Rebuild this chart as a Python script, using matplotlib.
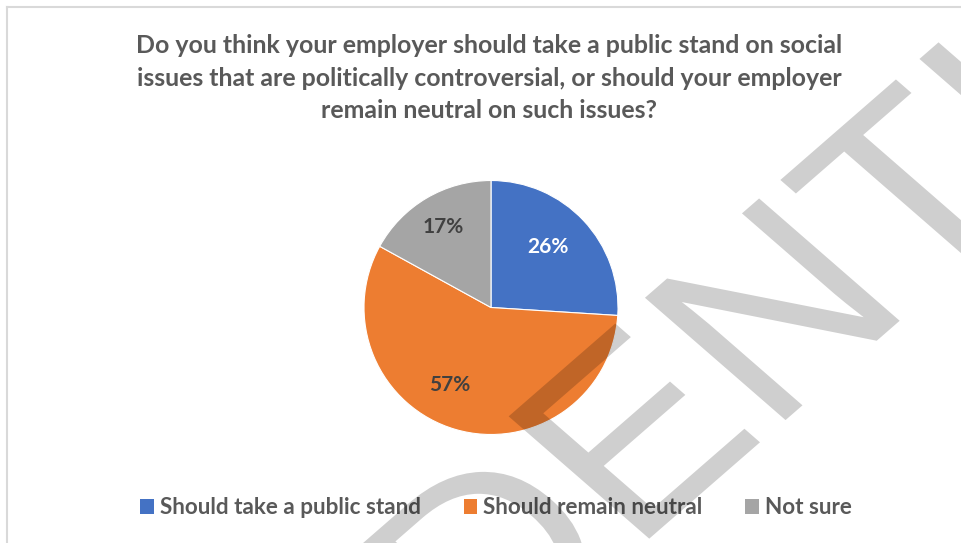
import numpy as np
import matplotlib.pyplot as plt
from matplotlib.patches import Patch, PathPatch
from matplotlib.lines import Line2D
from matplotlib.textpath import TextPath
from matplotlib.font_manager import FontProperties
from matplotlib.transforms import Affine2D

# survey answers
categories = ["Should take a public stand", "Should remain neutral", "Not sure"]
shares = [26, 57, 17]
colors = ["#4472C4", "#ED7D31", "#A5A5A5"]
label_colors = ["white", "#404040", "#404040"]

title_lines = ["Do you think your employer should take a public stand on social",
               "issues that are politically controversial, or should your employer",
               "remain neutral on such issues?"]

TEXT = "#595959"
FONT = ["Lato", "DejaVu Sans"]

W, H = 961, 543
fig = plt.figure(figsize=(W / 100, H / 100), dpi=100)
fig.patch.set_facecolor("white")

# chart border (top and left edges only show)
fig.add_artist(Line2D([7 / W, 1], [1 - 7 / H, 1 - 7 / H], color="#D9D9D9",
                      lw=1.5, transform=fig.transFigure))
fig.add_artist(Line2D([7 / W, 7 / W], [0, 1 - 7 / H], color="#D9D9D9",
                      lw=1.5, transform=fig.transFigure))

for line, base in zip(title_lines, [53, 86, 118]):
    fig.text(489.5 / W, 1 - base / H, line, ha="center", va="baseline",
             fontsize=17.9, fontweight="bold", color=TEXT, family=FONT)

# pie
cx, cy, r = 491, 307.5, 127
ax = fig.add_axes([(cx - r) / W, 1 - (cy + r) / H, 2 * r / W, 2 * r / H])
wedges, _ = ax.pie(shares, colors=colors, startangle=90, counterclock=False,
                   radius=1, wedgeprops=dict(edgecolor="white", linewidth=0.8))
ax.set_xlim(-1, 1)
ax.set_ylim(-1, 1)
ax.set_aspect("equal")
ax.axis("off")

# label radius and angular nudge (deg) per slice
label_r = [0.65, 0.69, 0.735]
label_nudge = [3.5, -11.7, 0]
for w, val, c, lr, dn in zip(wedges, shares, label_colors, label_r, label_nudge):
    ang = np.deg2rad((w.theta1 + w.theta2) / 2 + dn)
    ax.text(lr * np.cos(ang), lr * np.sin(ang), f"{val}%", ha="center",
            va="center", fontsize=15, fontweight="bold", color=c, family=FONT)

handles = [Patch(facecolor=c, edgecolor="none") for c in colors]
leg = fig.legend(handles, categories, loc="center", bbox_to_anchor=(496 / W, 1 - 508 / H),
                 ncol=3, frameon=False, handlelength=0.6, handleheight=0.6,
                 handletextpad=0.27, columnspacing=1.9, borderpad=0, borderaxespad=0,
                 prop=dict(family=FONT, weight="bold", size=16.2))
for t in leg.get_texts():
    t.set_color(TEXT)

# diagonal watermark, drawn as a path so it can be squashed vertically
wm = TextPath((0, 0), "CONFIDENTIAL", size=289,
              prop=FontProperties(family="Liberation Sans"))
ext = wm.get_extents()
wm_x, wm_y = 530, 520  # pixel position of the word's centre, from top-left
tr = (Affine2D()
      .translate(-(ext.x0 + ext.x1) / 2, -(ext.y0 + ext.y1) / 2)
      .rotate_deg(45)
      .scale(1, 0.87)
      .translate(wm_x, H - wm_y))
fig.add_artist(PathPatch(wm, transform=tr, facecolor="black", edgecolor="none",
                         alpha=0.19, zorder=10))

fig.savefig("out.png", dpi=100)
